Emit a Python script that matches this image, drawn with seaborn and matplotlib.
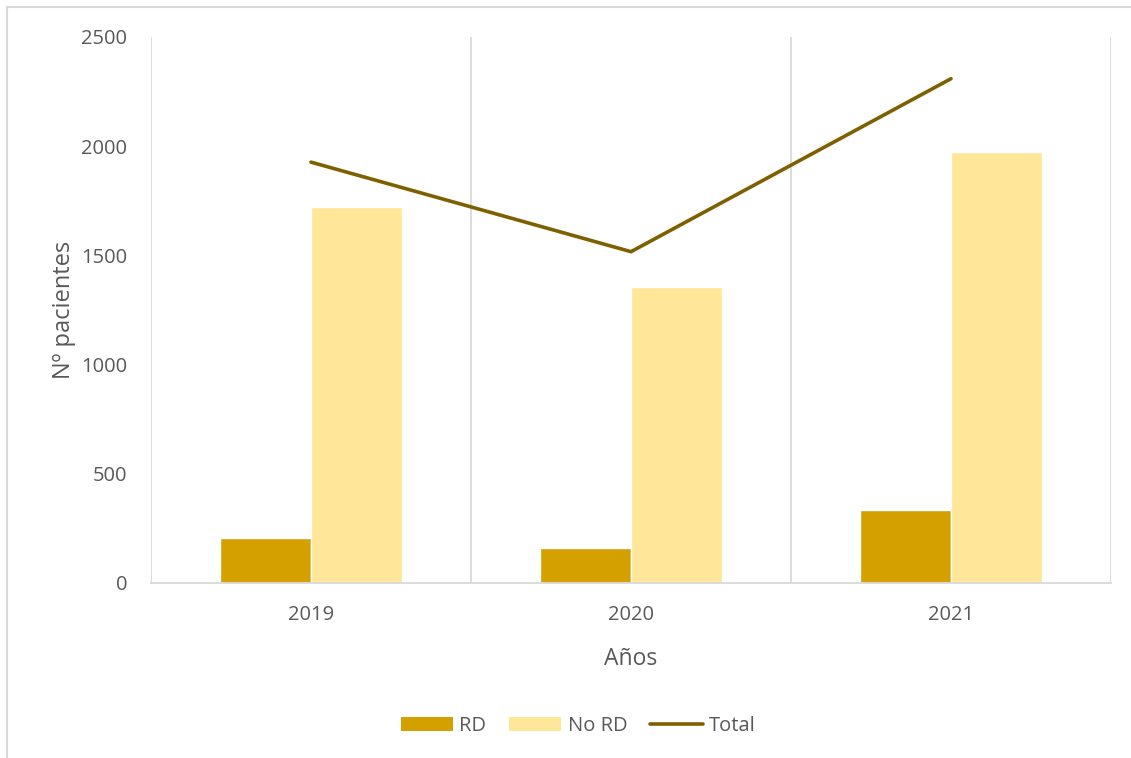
import numpy as np
import pandas as pd
import matplotlib
matplotlib.use("Agg")
import matplotlib.pyplot as plt
from matplotlib.patches import Patch, Rectangle
from matplotlib.lines import Line2D
import seaborn as sns

# Patients per year, split by RD status
years = ["2019", "2020", "2021"]
rd = [207, 160, 334]
no_rd = [1720, 1357, 1975]
total = [1927, 1517, 2309]
series_names = ["RD", "No RD"]
line_name = "Total"

y_ticks = [0, 500, 1000, 1500, 2000, 2500]

col_rd = "#d4a000"
col_nord = "#ffe699"
col_total = "#7f6000"
grid_col = "#d9d9d9"
text_col = "#595959"

sns.set_theme(style="white")
plt.rcParams["font.family"] = ["Open Sans", "DejaVu Sans"]

df = pd.DataFrame({
    "Año": years * 2,
    "Serie": [series_names[0]] * len(years) + [series_names[1]] * len(years),
    "Pacientes": rd + no_rd,
})

fig = plt.figure(figsize=(11.31, 7.58), dpi=100)
ax = fig.add_axes([151 / 1131, 1 - 583 / 758, (1111 - 151) / 1131, (583 - 37) / 758])

sns.barplot(data=df, x="Año", y="Pacientes", hue="Serie", order=years,
            hue_order=series_names, palette=[col_rd, col_nord],
            saturation=1, width=0.57, gap=0, ax=ax, legend=False, zorder=3)

sns.lineplot(x=np.arange(len(years)), y=total, color=col_total, linewidth=2.6,
             ax=ax, zorder=4, solid_capstyle="round", solid_joinstyle="miter")

ax.set_xlim(-0.5, len(years) - 0.5)
ax.set_ylim(0, 2500)
ax.set_yticks(y_ticks)
ax.set_yticklabels([str(t) for t in y_ticks])
ax.set_xticks(range(len(years)))
ax.set_xticklabels(years)

# vertical separators between year categories
for xb in np.arange(-0.5, len(years), 1.0):
    ax.axvline(xb, color=grid_col, linewidth=1.3, zorder=1)

for side in ["top", "right", "left"]:
    ax.spines[side].set_visible(False)
ax.spines["bottom"].set_color(grid_col)
ax.spines["bottom"].set_linewidth(1.3)
ax.spines["bottom"].set_zorder(5)

ax.tick_params(axis="both", length=0, labelsize=14.5, colors=text_col)
ax.tick_params(axis="y", pad=17)
ax.tick_params(axis="x", pad=16)

ax.set_xlabel("Años", fontsize=16.5, color=text_col, labelpad=16)
ax.set_ylabel("Nº pacientes", fontsize=17, color=text_col, labelpad=4)

handles = [
    Patch(facecolor=col_rd, edgecolor="none", label=series_names[0]),
    Patch(facecolor=col_nord, edgecolor="none", label=series_names[1]),
    Line2D([0], [0], color=col_total, linewidth=2.6, label=line_name),
]
leg = fig.legend(handles=handles, loc="center", bbox_to_anchor=(578 / 1131, 1 - 726 / 758),
                 ncol=3, frameon=False, fontsize=14.5, handlelength=2.6,
                 handletextpad=0.3, columnspacing=1.15)
for t in leg.get_texts():
    t.set_color(text_col)

# chart area frame
fig.patches.append(Rectangle((6.5 / 1131, -0.05), 1.2, 1 - 7 / 758 + 0.05,
                             transform=fig.transFigure, fill=False,
                             edgecolor=grid_col, linewidth=1.5))

fig.savefig("out.png", dpi=100, facecolor="white")
